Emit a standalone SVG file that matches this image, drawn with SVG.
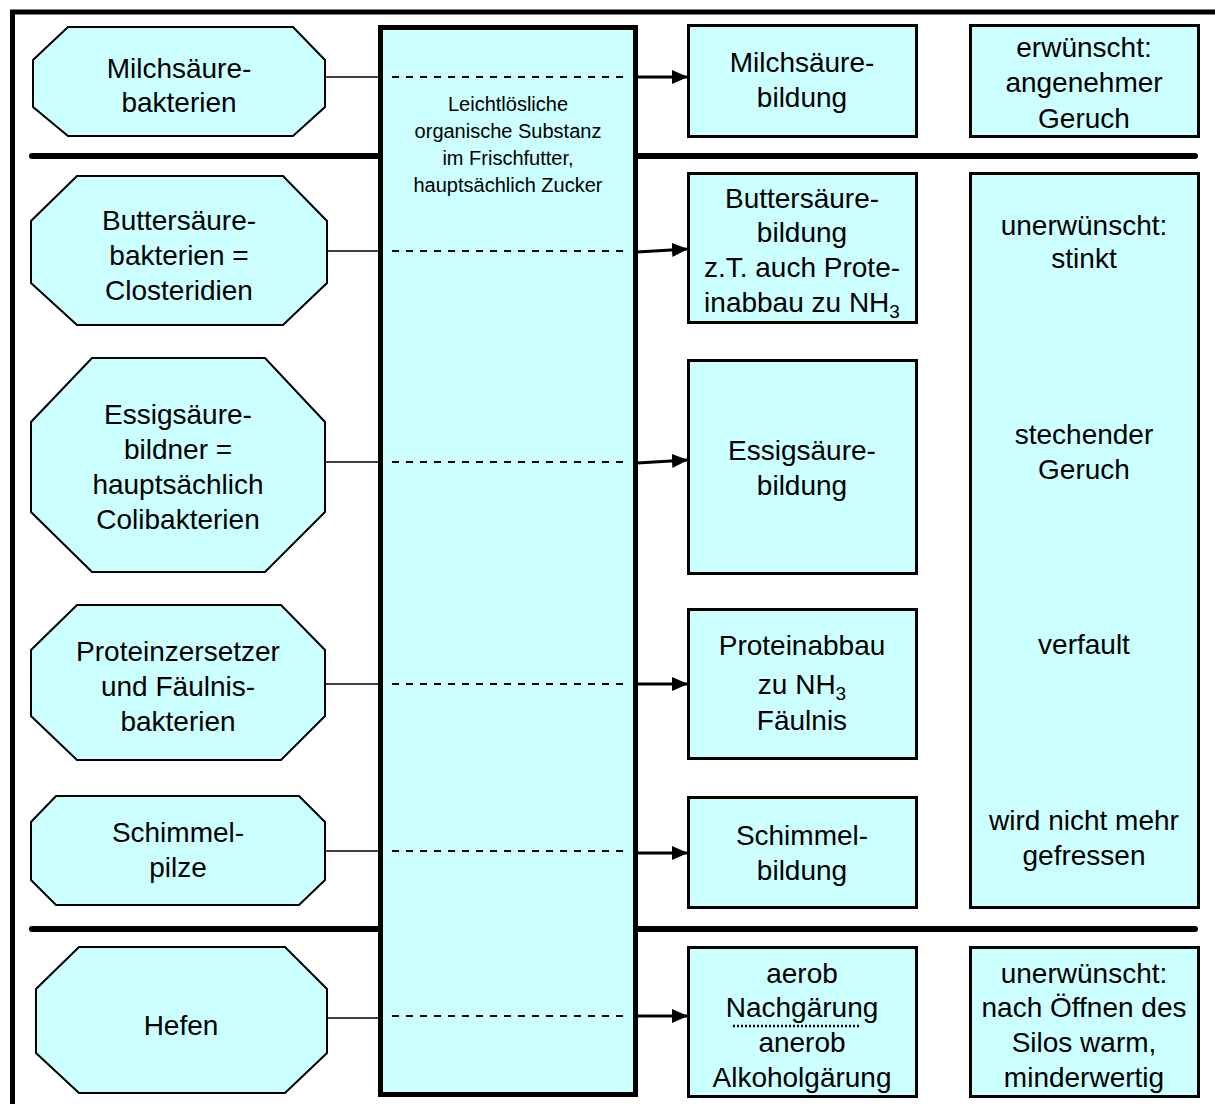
<svg xmlns="http://www.w3.org/2000/svg" width="1215" height="1104" viewBox="0 0 1215 1104">
<defs>
<style>
.oct{fill:#CCFFFF;stroke:#000;stroke-width:2}
.box{fill:#CCFFFF;stroke:#000;stroke-width:3}
.col{fill:#CCFFFF;stroke:#000;stroke-width:5}
.t{font-family:"Liberation Sans",Arial,sans-serif;font-size:28px;fill:#000;text-anchor:middle}
.s{font-family:"Liberation Sans",Arial,sans-serif;font-size:20px;fill:#000;text-anchor:middle}
.sep{stroke:#000;stroke-width:6;stroke-linecap:round;fill:none}
.thin{stroke:#000;stroke-width:1.5;fill:none}
.dash{stroke:#000;stroke-width:1.8;stroke-dasharray:7 7;fill:none}
.arr{stroke:#000;stroke-width:3;fill:none;marker-end:url(#ah)}
</style>
<marker id="ah" markerUnits="userSpaceOnUse" markerWidth="16" markerHeight="14" refX="16" refY="7" orient="auto">
<path d="M0,0 L16,7 L0,14 z" fill="#000"/>
</marker>
</defs>
<rect x="0" y="0" width="1215" height="1104" fill="#fff"/>
<g id="frame">
<line x1="10" y1="12" x2="1215" y2="12" stroke="#000" stroke-width="5"/>
<line x1="12.5" y1="10" x2="12.5" y2="1104" stroke="#000" stroke-width="5"/>
</g>
<g id="separators">
<line class="sep" x1="32" y1="156" x2="1195" y2="156"/>
<line class="sep" x1="32" y1="929" x2="1195" y2="929"/>
</g>
<g id="column">
<rect class="col" x="380.5" y="27.5" width="255" height="1067"/>
<text class="s"><tspan x="508" y="111">Leichtlösliche</tspan><tspan x="508" y="138">organische Substanz</tspan><tspan x="508" y="165">im Frischfutter,</tspan><tspan x="508" y="192">hauptsächlich Zucker</tspan></text>
</g>
<g id="connectors">
<line class="thin" x1="325" y1="77" x2="380" y2="77"/>
<line class="thin" x1="327" y1="251" x2="380" y2="251"/>
<line class="thin" x1="325" y1="462" x2="380" y2="462"/>
<line class="thin" x1="325" y1="684" x2="380" y2="684"/>
<line class="thin" x1="325" y1="851" x2="380" y2="851"/>
<line class="thin" x1="327" y1="1018" x2="380" y2="1018"/>
<line class="dash" x1="392" y1="77" x2="630" y2="77"/>
<line class="dash" x1="392" y1="251" x2="630" y2="251"/>
<line class="dash" x1="392" y1="462" x2="630" y2="462"/>
<line class="dash" x1="392" y1="684" x2="630" y2="684"/>
<line class="dash" x1="392" y1="851" x2="630" y2="851"/>
<line class="dash" x1="392" y1="1016" x2="630" y2="1016"/>
<line class="arr" x1="637" y1="77" x2="688" y2="77"/>
<line class="arr" x1="637" y1="252" x2="688" y2="249"/>
<line class="arr" x1="637" y1="463" x2="688" y2="460"/>
<line class="arr" x1="637" y1="684" x2="688" y2="684"/>
<line class="arr" x1="637" y1="853" x2="688" y2="853"/>
<line class="arr" x1="637" y1="1016" x2="688" y2="1016"/>
</g>
<g id="oct1">
<polygon class="oct" points="68,27 293,27 325,60 325,107 293,136 68,136 33,107 33,60"/>
<text class="t"><tspan x="179" y="78">Milchsäure-</tspan><tspan x="179" y="112">bakterien</tspan></text>
</g>
<g id="oct2">
<polygon class="oct" points="77,176 283,176 327,221 327,283 283,325 77,325 31,283 31,221"/>
<text class="t"><tspan x="179" y="230">Buttersäure-</tspan><tspan x="179" y="265">bakterien =</tspan><tspan x="179" y="300">Closteridien</tspan></text>
</g>
<g id="oct3">
<polygon class="oct" points="92,358 265,358 325,422 325,512 265,572 92,572 31,512 31,422"/>
<text class="t"><tspan x="178" y="424">Essigsäure-</tspan><tspan x="178" y="459">bildner =</tspan><tspan x="178" y="494">hauptsächlich</tspan><tspan x="178" y="529">Colibakterien</tspan></text>
</g>
<g id="oct4">
<polygon class="oct" points="77,605 281,605 325,650 325,716 281,760 77,760 31,716 31,650"/>
<text class="t"><tspan x="178" y="661">Proteinzersetzer</tspan><tspan x="178" y="696">und Fäulnis-</tspan><tspan x="178" y="731">bakterien</tspan></text>
</g>
<g id="oct5">
<polygon class="oct" points="56,796 299,796 325,822 325,880 299,905 56,905 31,880 31,822"/>
<text class="t"><tspan x="178" y="842">Schimmel-</tspan><tspan x="178" y="877">pilze</tspan></text>
</g>
<g id="oct6">
<polygon class="oct" points="79,947 285,947 327,989 327,1053 285,1093 79,1093 36,1053 36,989"/>
<text class="t" x="181" y="1035">Hefen</text>
</g>
<g id="box1">
<rect class="box" x="688.5" y="25.5" width="228" height="111"/>
<text class="t"><tspan x="802" y="72">Milchsäure-</tspan><tspan x="802" y="107">bildung</tspan></text>
</g>
<g id="box2">
<rect class="box" x="688.5" y="173.5" width="228" height="149"/>
<text class="t"><tspan x="802" y="208">Buttersäure-</tspan><tspan x="802" y="242">bildung</tspan><tspan x="802" y="277">z.T. auch Prote-</tspan><tspan x="802" y="312">inabbau zu NH<tspan font-size="19" dy="6">3</tspan></tspan></text>
</g>
<g id="box3">
<rect class="box" x="688.5" y="360.5" width="228" height="213"/>
<text class="t"><tspan x="802" y="460">Essigsäure-</tspan><tspan x="802" y="495">bildung</tspan></text>
</g>
<g id="box4">
<rect class="box" x="688.5" y="609.5" width="228" height="149"/>
<text class="t"><tspan x="802" y="655">Proteinabbau</tspan><tspan x="802" y="694">zu NH<tspan font-size="19" dy="6">3</tspan></tspan><tspan x="802" y="730">Fäulnis</tspan></text>
</g>
<g id="box5">
<rect class="box" x="688.5" y="797.5" width="228" height="110"/>
<text class="t"><tspan x="802" y="845">Schimmel-</tspan><tspan x="802" y="880">bildung</tspan></text>
</g>
<g id="box6">
<rect class="box" x="688.5" y="947.5" width="228" height="149"/>
<text class="t"><tspan x="802" y="983">aerob</tspan><tspan x="802" y="1017">Nachgärung</tspan><tspan x="802" y="1052">anerob</tspan><tspan x="802" y="1087">Alkoholgärung</tspan></text>
<line x1="733" y1="1026" x2="860" y2="1026" stroke="#000" stroke-width="2.5" stroke-dasharray="2 2"/>
</g>
<g id="res1">
<rect class="box" x="970.5" y="25.5" width="228" height="111"/>
<text class="t"><tspan x="1084" y="57">erwünscht:</tspan><tspan x="1084" y="92">angenehmer</tspan><tspan x="1084" y="128">Geruch</tspan></text>
</g>
<g id="res2">
<rect class="box" x="970.5" y="173.5" width="228" height="734"/>
<text class="t"><tspan x="1084" y="235">unerwünscht:</tspan><tspan x="1084" y="268">stinkt</tspan><tspan x="1084" y="444">stechender</tspan><tspan x="1084" y="479">Geruch</tspan><tspan x="1084" y="654">verfault</tspan><tspan x="1084" y="830">wird nicht mehr</tspan><tspan x="1084" y="865">gefressen</tspan></text>
</g>
<g id="res3">
<rect class="box" x="970.5" y="947.5" width="228" height="149"/>
<text class="t"><tspan x="1084" y="983">unerwünscht:</tspan><tspan x="1084" y="1017">nach Öffnen des</tspan><tspan x="1084" y="1052">Silos warm,</tspan><tspan x="1084" y="1087">minderwertig</tspan></text>
</g>
</svg>
